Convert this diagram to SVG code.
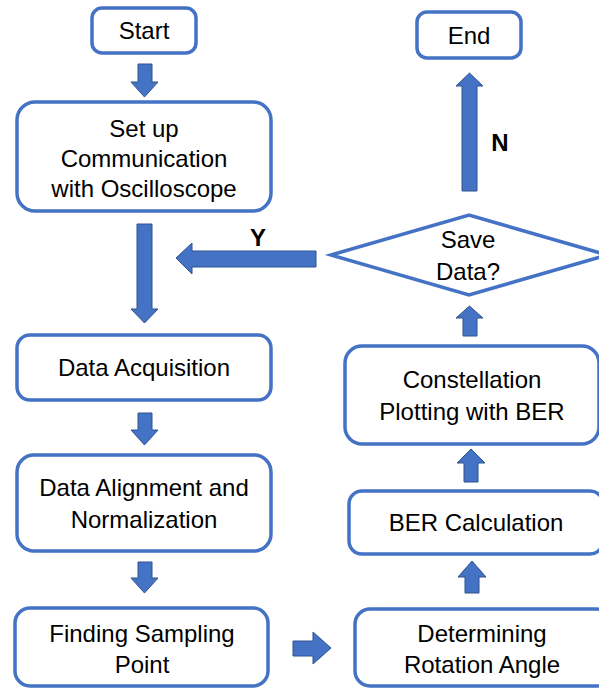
<svg xmlns="http://www.w3.org/2000/svg" width="599" height="690" viewBox="0 0 599 690">
  <style>
    .box { fill: #ffffff; stroke: #4472C4; stroke-width: 3.5; }
    .arrow { fill: #4472C4; stroke: #2F528F; stroke-width: 1; stroke-linejoin: miter; }
    .label { font-family: "Liberation Sans", Arial, sans-serif; font-size: 24px; fill: #000000; text-anchor: middle; }
    .yn { font-family: "Liberation Sans", Arial, sans-serif; font-size: 24px; font-weight: bold; fill: #000000; text-anchor: middle; }
  </style>
  <rect width="599" height="690" fill="#ffffff"/>

  <!-- block arrows between steps -->
  <g id="connectors">
    <polygon class="arrow" points="138,64 152,64 152,82 158,82 144.5,97 131,82 138,82"/>
    <polygon class="arrow" points="137,224 152,224 152,309 158,309 144.5,323 131,309 137,309"/>
    <polygon class="arrow" points="138,413 152,413 152,430 158,430 144.5,445 131,430 138,430"/>
    <polygon class="arrow" points="138,562 152,562 152,578 158,578 144.5,593 131,578 138,578"/>
    <polygon class="arrow" points="293,641 313,641 313,632 331,648 313,664 313,656 293,656"/>
    <polygon class="arrow" points="465,593 479,593 479,577 486,577 472,561 458,577 465,577"/>
    <polygon class="arrow" points="464,482 478,482 478,463 485,463 471,449 457,463 464,463"/>
    <polygon class="arrow" points="463,336 477,336 477,318 483,318 469.5,306 456,318 463,318"/>
    <polygon class="arrow" points="462,191 477,191 477,86 483,86 469.5,73 456,86 462,86"/>
    <polygon class="arrow" points="316,251 316,267 192,267 192,274 176,258 192,243 192,251"/>
    <text class="yn" x="258" y="246">Y</text>
    <text class="yn" x="500" y="151">N</text>
  </g>

  <g id="start">
    <rect class="box" x="92" y="8" width="104" height="45" rx="10"/>
    <text class="label" x="144" y="39">Start</text>
  </g>

  <g id="setup">
    <rect class="box" x="17" y="102" width="254" height="109" rx="18"/>
    <text class="label" x="144" y="137">Set up</text>
    <text class="label" x="144" y="167">Communication</text>
    <text class="label" x="144" y="197">with Oscilloscope</text>
  </g>

  <g id="acquisition">
    <rect class="box" x="17" y="335" width="254" height="65" rx="13"/>
    <text class="label" x="144" y="376">Data Acquisition</text>
  </g>

  <g id="alignment">
    <rect class="box" x="17" y="455" width="254" height="96" rx="17"/>
    <text class="label" x="144" y="496">Data Alignment and</text>
    <text class="label" x="144" y="528">Normalization</text>
  </g>

  <g id="sampling">
    <rect class="box" x="15" y="608" width="253" height="78" rx="15"/>
    <text class="label" x="142" y="642">Finding Sampling</text>
    <text class="label" x="142" y="673">Point</text>
  </g>

  <g id="rotation">
    <rect class="box" x="355" y="609" width="256" height="77" rx="15"/>
    <text class="label" x="482" y="642">Determining</text>
    <text class="label" x="482" y="673">Rotation Angle</text>
  </g>

  <g id="ber">
    <rect class="box" x="349" y="491" width="254" height="63" rx="13"/>
    <text class="label" x="476" y="531">BER Calculation</text>
  </g>

  <g id="constellation">
    <rect class="box" x="345" y="346" width="254" height="98" rx="17"/>
    <text class="label" x="472" y="388">Constellation</text>
    <text class="label" x="472" y="420">Plotting with BER</text>
  </g>

  <g id="save">
    <polygon class="box" points="331,255 469,215 607,255 469,295"/>
    <text class="label" x="468" y="248">Save</text>
    <text class="label" x="468" y="280">Data?</text>
  </g>

  <g id="end">
    <rect class="box" x="417" y="12" width="104" height="46" rx="10"/>
    <text class="label" x="469" y="44">End</text>
  </g>
</svg>
